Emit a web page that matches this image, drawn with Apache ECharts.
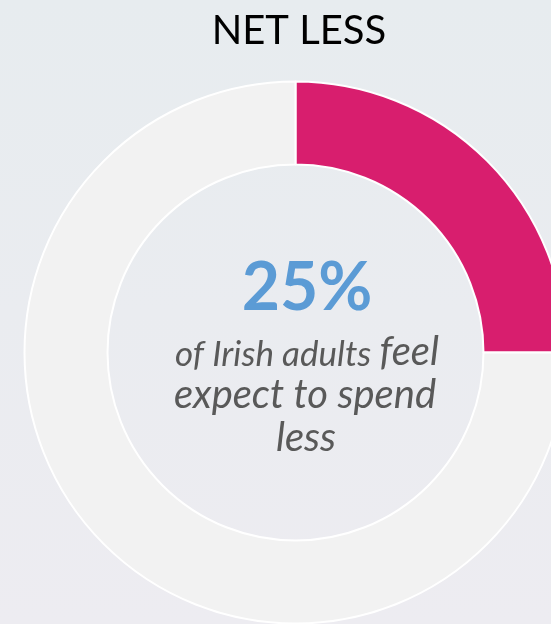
<!DOCTYPE html>
<html>
<head>
<meta charset="utf-8">
<script src="https://cdn.jsdelivr.net/npm/echarts@6/dist/echarts.min.js"></script>
<style>
  html, body { margin: 0; padding: 0; }
  #chart { width: 551px; height: 624px; }
</style>
</head>
<body>
<div id="chart"></div>
<script>
// Share of adults expecting to spend less vs. the rest
const categories = ['Net less', 'Other'];
const values = [25, 75];
const sliceColors = ['#d81e6e', '#f2f2f2'];
const headline = '25%';

const chart = echarts.init(document.getElementById('chart'), null, { renderer: 'canvas' });

chart.setOption({
  animation: false,
  backgroundColor: {
    type: 'linear', x: 0, y: 0, x2: 0, y2: 1,
    colorStops: [
      { offset: 0, color: '#e7ecef' },
      { offset: 1, color: '#edecf1' }
    ]
  },
  title: {
    text: 'NET LESS',
    left: 294,
    top: 6,
    textAlign: 'center',
    textStyle: {
      fontFamily: 'Lato',
      fontWeight: 'normal',
      fontSize: 40,
      color: '#000000'
    }
  },
  series: [{
    type: 'pie',
    center: [295.5, 352.5],
    radius: [188, 271],
    startAngle: 90,
    clockwise: true,
    silent: true,
    label: { show: false },
    labelLine: { show: false },
    itemStyle: { borderColor: '#ffffff', borderWidth: 2 },
    data: categories.map((name, i) => ({
      name: name,
      value: values[i],
      itemStyle: { color: sliceColors[i] }
    }))
  }],
  graphic: [
    {
      type: 'text',
      x: 307, y: 289,
      style: {
        text: headline,
        align: 'center',
        verticalAlign: 'middle',
        fontFamily: 'Lato',
        fontWeight: 'bold',
        fontSize: 66,
        fill: '#5b9bd5'
      }
    },
    {
      type: 'text',
      x: 307, y: 351,
      style: {
        text: '{a|of Irish adults }{b|feel}',
        align: 'center',
        verticalAlign: 'middle',
        rich: {
          a: { fontFamily: 'Lato', fontStyle: 'italic', fontSize: 35, fill: '#595959', verticalAlign: 'bottom', lineHeight: 42 },
          b: { fontFamily: 'Lato', fontStyle: 'italic', fontSize: 40, fill: '#595959', verticalAlign: 'bottom', lineHeight: 42 }
        }
      }
    },
    {
      type: 'text',
      x: 305, y: 395,
      style: {
        text: 'expect to spend',
        align: 'center',
        verticalAlign: 'middle',
        fontFamily: 'Lato', fontStyle: 'italic', fontSize: 40, fill: '#595959'
      }
    },
    {
      type: 'text',
      x: 306, y: 438,
      style: {
        text: 'less',
        align: 'center',
        verticalAlign: 'middle',
        fontFamily: 'Lato', fontStyle: 'italic', fontSize: 40, fill: '#595959'
      }
    }
  ]
});
</script>
</body>
</html>
